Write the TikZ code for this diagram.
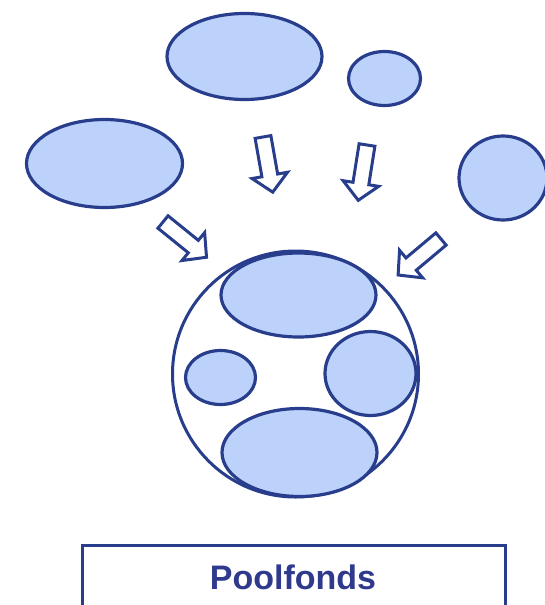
\documentclass[tikz,border=0pt]{standalone}
\usepackage{fontspec}
\setmainfont{Liberation Sans}
\usetikzlibrary{shapes.geometric}
\definecolor{lineblue}{RGB}{40,62,140}
\definecolor{fillblue}{RGB}{189,210,250}
\definecolor{textblue}{RGB}{48,58,140}
\tikzset{
  blob/.style={ellipse, draw=lineblue, fill=fillblue, line width=3.2pt, inner sep=0pt},
  ring/.style={circle, draw=lineblue, line width=3pt, inner sep=0pt},
  arrowline/.style={draw=lineblue, fill=white, line width=3pt, line join=miter},
  hollowarrow/.pic={\path[arrowline] (-8,0) -- (8,0) -- (8,39) -- (18,39) -- (0,56) -- (-18,39) -- (-8,39) -- cycle;},
  labelbox/.style={draw=lineblue, line width=3pt, fill=white}
}
\begin{document}
\begin{tikzpicture}[x=1pt,y=-1pt]
\useasboundingbox (0,0) rectangle (545,605);
\clip (0,0) rectangle (545,605);
% top ellipses
\node[blob, minimum width=155pt, minimum height=86pt] (t1) at (244.5,56.5) {};
\node[blob, minimum width=72pt, minimum height=54pt] (t2) at (384.5,78.5) {};
\node[blob, minimum width=156pt, minimum height=88pt] (t3) at (104.5,163.5) {};
\node[blob, minimum width=88pt, minimum height=84pt] (t4) at (503,178) {};
% arrows
\pic[rotate=10] at (263,137) {hollowarrow};
\pic[rotate=-9] at (367,145) {hollowarrow};
\pic[rotate=51] at (163,222) {hollowarrow};
\pic[rotate=-50] at (441,239) {hollowarrow};
% pool
\node[ring, minimum size=246pt] (pool) at (295.5,374) {};
\node[blob, minimum width=155pt, minimum height=84pt] (p1) at (298.5,295) {};
\node[blob, minimum width=70pt, minimum height=54pt] (p2) at (220.5,377.5) {};
\node[blob, minimum width=91pt, minimum height=84pt] (p3) at (370.5,373.5) {};
\node[blob, minimum width=155pt, minimum height=88pt] (p4) at (299.5,452.5) {};
% label box
\path[labelbox] (82,545) rectangle (505,620);
\node[text=textblue, font=\bfseries\fontsize{34}{40}\selectfont] (lbl) at (293,577) {Poolfonds};
\end{tikzpicture}
\end{document}
